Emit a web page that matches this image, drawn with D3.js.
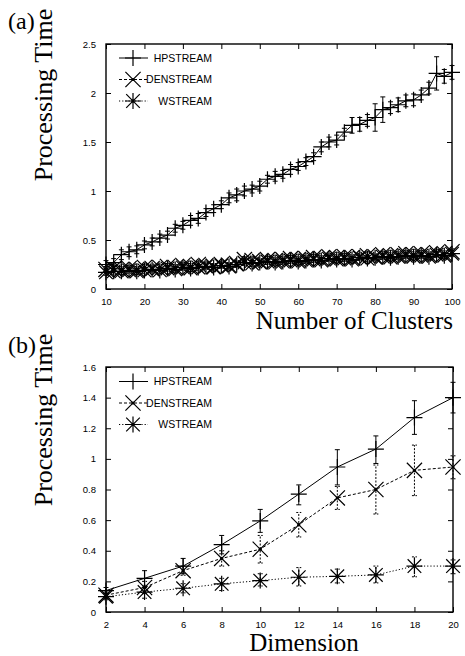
<!DOCTYPE html>
<html><head><meta charset="utf-8">
<script src="https://cdn.jsdelivr.net/npm/d3@7"></script>
<style>body{margin:0;background:#fff}svg{display:block}</style>
</head><body>
<script>
// ---------- DATA ----------
const seriesNames = ["HPSTREAM", "DENSTREAM", "WSTREAM"];

// (a) Number of clusters
const clustersX = [10,12,14,16,18,20,22,24,26,28,30,32,34,36,38,40,42,44,46,48,50,52,54,56,58,60,62,64,66,68,70,72,74,76,78,80,82,84,86,88,90,92,94,96,98,100];
const clustersHP = [0.25,0.27,0.35,0.38,0.40,0.45,0.48,0.52,0.55,0.62,0.65,0.70,0.72,0.78,0.82,0.86,0.93,0.96,1.00,1.02,1.05,1.12,1.15,1.17,1.22,1.25,1.30,1.35,1.45,1.50,1.52,1.60,1.67,1.68,1.72,1.75,1.83,1.85,1.88,1.92,1.93,1.98,2.05,2.20,2.17,2.21];
const clustersHPErr = [0.04,0.04,0.05,0.05,0.04,0.04,0.04,0.04,0.04,0.04,0.04,0.05,0.05,0.04,0.04,0.04,0.05,0.06,0.05,0.04,0.05,0.04,0.05,0.04,0.05,0.04,0.04,0.04,0.05,0.05,0.05,0.04,0.08,0.07,0.06,0.14,0.13,0.06,0.07,0.06,0.06,0.05,0.06,0.17,0.07,0.07];
const clustersDEN = [0.20,0.21,0.20,0.21,0.20,0.22,0.21,0.22,0.23,0.22,0.24,0.23,0.25,0.24,0.23,0.25,0.24,0.26,0.30,0.29,0.28,0.30,0.29,0.30,0.31,0.30,0.31,0.32,0.31,0.33,0.32,0.33,0.32,0.33,0.34,0.33,0.35,0.34,0.35,0.36,0.35,0.36,0.35,0.37,0.36,0.38];
const clustersW = [0.17,0.18,0.18,0.19,0.18,0.19,0.20,0.19,0.21,0.20,0.22,0.21,0.22,0.23,0.22,0.24,0.23,0.25,0.27,0.26,0.27,0.28,0.27,0.28,0.29,0.28,0.29,0.30,0.29,0.31,0.30,0.31,0.30,0.32,0.31,0.32,0.33,0.32,0.33,0.34,0.33,0.34,0.33,0.35,0.34,0.36];
const clustersSmallErr = 0.03;
const clustersXTicks = [10,20,30,40,50,60,70,80,90,100];
const clustersYTicks = [0,0.5,1,1.5,2,2.5];

// (b) Dimension
const dimX = [2,4,6,8,10,12,14,16,18,20];
const dimHP = [0.14,0.22,0.30,0.44,0.595,0.77,0.947,1.064,1.27,1.40];
const dimHPLo = [0.12,0.17,0.25,0.38,0.52,0.70,0.83,0.97,1.16,1.30];
const dimHPHi = [0.16,0.27,0.35,0.50,0.67,0.83,1.06,1.15,1.38,1.50];
const dimDEN = [0.11,0.16,0.27,0.35,0.41,0.57,0.745,0.80,0.925,0.947];
const dimDENLo = [0.09,0.12,0.24,0.30,0.32,0.49,0.67,0.64,0.76,0.87];
const dimDENHi = [0.13,0.20,0.30,0.40,0.50,0.65,0.82,0.96,1.09,1.02];
const dimW = [0.10,0.13,0.155,0.184,0.205,0.227,0.233,0.242,0.30,0.30];
const dimWLo = [0.08,0.09,0.125,0.14,0.17,0.17,0.19,0.19,0.23,0.25];
const dimWHi = [0.12,0.16,0.185,0.22,0.25,0.29,0.28,0.30,0.36,0.34];
const dimXTicks = [2,4,6,8,10,12,14,16,18,20];
const dimYTicks = [0,0.2,0.4,0.6,0.8,1,1.2,1.4,1.6];

// ---------- DRAW ----------
const W = 465, H = 656;
const svg = d3.select("body").append("svg").attr("width", W).attr("height", H);
const sans = "'Liberation Sans', Arial, sans-serif";
const serif = "'Liberation Serif', 'Times New Roman', serif";

const styles = [
  {marker: "plus", dash: null},
  {marker: "cross", dash: "3,2"},
  {marker: "star", dash: "1.2,2"}
];

function markerPath(type, s) {
  const p = d3.path();
  if (type === "plus" || type === "star") {
    p.moveTo(-s, 0); p.lineTo(s, 0); p.moveTo(0, -s); p.lineTo(0, s);
  }
  if (type === "cross" || type === "star") {
    const t = type === "cross" ? s * 0.95 : s * 0.85;
    p.moveTo(-t, -t); p.lineTo(t, t); p.moveTo(-t, t); p.lineTo(t, -t);
  }
  return p.toString();
}

function panel(cfg) {
  const x = d3.scaleLinear().domain(cfg.xDomain).range([cfg.left, cfg.right]);
  const y = d3.scaleLinear().domain(cfg.yDomain).range([cfg.bottom, cfg.top]);
  const g = svg.append("g");

  const tl = 5;
  g.append("g").attr("transform", `translate(0,${cfg.bottom})`)
    .call(d3.axisBottom(x).tickValues(cfg.xTicks).tickSize(-tl).tickPadding(9).tickFormat(d3.format("~g")))
    .call(a => { a.select(".domain").remove(); a.selectAll("text").attr("font-family", sans).attr("font-size", 9.5); });
  g.append("g").attr("transform", `translate(0,${cfg.top})`)
    .call(d3.axisTop(x).tickValues(cfg.xTicks).tickSize(-tl).tickFormat(""))
    .call(a => a.select(".domain").remove());
  g.append("g").attr("transform", `translate(${cfg.left},0)`)
    .call(d3.axisLeft(y).tickValues(cfg.yTicks).tickSize(-tl).tickPadding(10).tickFormat(d3.format("~g")))
    .call(a => { a.select(".domain").remove(); a.selectAll("text").attr("font-family", sans).attr("font-size", 9.5); });
  g.append("g").attr("transform", `translate(${cfg.right},0)`)
    .call(d3.axisRight(y).tickValues(cfg.yTicks).tickSize(-tl).tickFormat(""))
    .call(a => a.select(".domain").remove());
  g.selectAll(".tick line").attr("stroke", "#000").attr("stroke-width", 1);

  cfg.series.forEach((s, i) => {
    const st = styles[i];
    const pts = cfg.xs.map((xv, j) => ({x: xv, y: s.v[j], lo: s.lo[j], hi: s.hi[j]}));
    const line = d3.line().x(d => x(d.x)).y(d => y(d.y));
    g.append("path").datum(pts).attr("d", line).attr("fill", "none")
      .attr("stroke", "#000").attr("stroke-width", 1).attr("stroke-dasharray", st.dash);
    const eb = g.append("g").attr("stroke", "#000").attr("stroke-width", 1).attr("stroke-dasharray", st.dash ? "2,1.5" : null);
    pts.forEach(d => {
      eb.append("line").attr("x1", x(d.x)).attr("x2", x(d.x)).attr("y1", y(d.lo)).attr("y2", y(d.hi));
      [d.lo, d.hi].forEach(v => eb.append("line").attr("x1", x(d.x) - 2.5).attr("x2", x(d.x) + 2.5).attr("y1", y(v)).attr("y2", y(v)).attr("stroke-dasharray", null));
    });
    const mg = g.append("g");
    pts.forEach(d => {
      mg.append("path").attr("transform", `translate(${x(d.x)},${y(d.y)})`)
        .attr("d", markerPath(st.marker, 8)).attr("fill", "none").attr("stroke", "#000").attr("stroke-width", 1.2);
      if (i > 0) mg.append("circle").attr("cx", x(d.x)).attr("cy", y(d.y)).attr("r", 1.6).attr("fill", "#000");
    });
  });

  g.append("rect").attr("x", cfg.left).attr("y", cfg.top).attr("width", cfg.right - cfg.left).attr("height", cfg.bottom - cfg.top)
    .attr("fill", "none").attr("stroke", "#000").attr("stroke-width", 1.4);

  seriesNames.forEach((name, i) => {
    const st = styles[i];
    const ly = cfg.legendY + i * 21.5;
    g.append("line").attr("x1", cfg.left + 13).attr("x2", cfg.left + 42).attr("y1", ly).attr("y2", ly)
      .attr("stroke", "#000").attr("stroke-width", 1).attr("stroke-dasharray", st.dash);
    g.append("path").attr("transform", `translate(${cfg.left + 27},${ly})`).attr("d", markerPath(st.marker, 8))
      .attr("fill", "none").attr("stroke", "#000").attr("stroke-width", 1.2);
    if (i > 0) g.append("circle").attr("cx", cfg.left + 27).attr("cy", ly).attr("r", 1.6).attr("fill", "#000");
    g.append("text").attr("x", cfg.left + 106).attr("y", ly + 3.8).attr("text-anchor", "end")
      .attr("font-family", sans).attr("font-size", 10.5).text(name);
  });

  svg.append("text").attr("x", 8).attr("y", cfg.tagY).attr("font-family", serif).attr("font-size", 24).text(cfg.tag);
  svg.append("text").attr("transform", `translate(52,${cfg.yLabelC}) rotate(-90)`).attr("text-anchor", "middle")
    .attr("font-family", serif).attr("font-size", 26).text("Processing Time");
  svg.append("text").attr("x", cfg.xLabelX).attr("y", cfg.xLabelY).attr("text-anchor", cfg.xLabelAnchor)
    .attr("font-family", serif).attr("font-size", 25).text(cfg.xLabel);
}

panel({
  left: 106, right: 452, top: 44, bottom: 289,
  xDomain: [10, 100], yDomain: [0, 2.5], xTicks: clustersXTicks, yTicks: clustersYTicks,
  xs: clustersX,
  series: [
    {v: clustersHP, lo: clustersHP.map((v, j) => v - clustersHPErr[j]), hi: clustersHP.map((v, j) => v + clustersHPErr[j])},
    {v: clustersDEN, lo: clustersDEN.map(v => v - clustersSmallErr), hi: clustersDEN.map(v => v + clustersSmallErr)},
    {v: clustersW, lo: clustersW.map(v => v - clustersSmallErr), hi: clustersW.map(v => v + clustersSmallErr)}
  ],
  legendY: 58, tag: "(a)", tagY: 29, yLabelC: 95,
  xLabel: "Number of Clusters", xLabelX: 453, xLabelY: 329, xLabelAnchor: "end"
});

panel({
  left: 106, right: 453, top: 367, bottom: 612,
  xDomain: [2, 20], yDomain: [0, 1.6], xTicks: dimXTicks, yTicks: dimYTicks,
  xs: dimX,
  series: [
    {v: dimHP, lo: dimHPLo, hi: dimHPHi},
    {v: dimDEN, lo: dimDENLo, hi: dimDENHi},
    {v: dimW, lo: dimWLo, hi: dimWHi}
  ],
  legendY: 381.5, tag: "(b)", tagY: 353, yLabelC: 420,
  xLabel: "Dimension", xLabelX: 304, xLabelY: 651, xLabelAnchor: "middle"
});
</script>
</body></html>
